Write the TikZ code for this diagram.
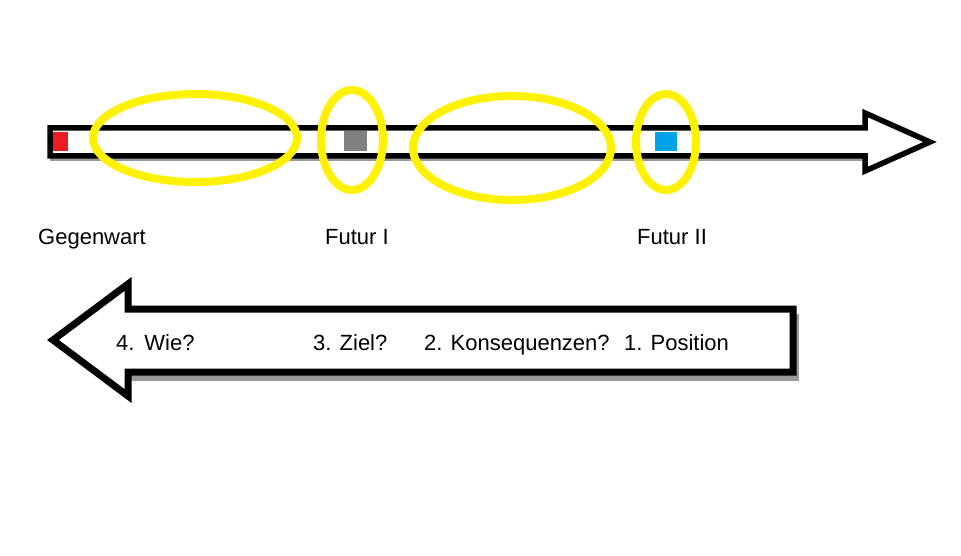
\documentclass[tikz,border=0pt]{standalone}
\usepackage{fontspec}
\setmainfont{Liberation Sans}
\usepackage{tikz}
\usetikzlibrary{positioning,calc}
\definecolor{paintRed}{HTML}{ED1C24}
\definecolor{paintGray}{HTML}{7F7F7F}
\definecolor{paintBlue}{HTML}{00A2E8}
\definecolor{paintYellow}{HTML}{FFF200}
\definecolor{shadow}{HTML}{9A9A9A}
\tikzset{
  timeline/.style={draw=black, fill=white, line width=5.5pt, line join=miter},
  backarrow/.style={draw=black, fill=white, line width=7pt, line join=miter},
  arrowshadow/.style={draw=shadow, line width=7pt, line join=miter},
  marker/.style={draw=none},
  ring/.style={draw=paintYellow, line width=8pt},
  tense/.style={anchor=base west, inner sep=0pt, font=\fontsize{22}{26}\selectfont},
  question/.style={anchor=base west, inner sep=0pt, font=\fontsize{22}{26}\selectfont}
}
\begin{document}
\begin{tikzpicture}[x=1pt, y=-1pt]
\useasboundingbox[fill=white] (0,0) rectangle (961,556);
% time line with the tenses
\draw[arrowshadow, line width=6.5pt, shift={(0,1.5)}] (50,128) -- (865,128) (865,156) -- (50,156);
\draw[timeline] (50,128) -- (865,128) -- (865,113) -- (930,142) -- (865,171) -- (865,156) -- (50,156) -- cycle;
\fill[marker, paintRed] (53,132) rectangle (68,151);
\fill[marker, paintGray] (344,131) rectangle (367,151);
\fill[marker, paintBlue] (655,132) rectangle (677,151);
\draw[ring] (195,138) ellipse [x radius=102, y radius=44];
\draw[ring] (352,140) ellipse [x radius=31, y radius=50];
\draw[ring] (512,148) ellipse [x radius=99, y radius=52];
\draw[ring] (666,142) ellipse [x radius=30, y radius=48];
\node[tense] (gegenwart) at (38,244) {Gegenwart};
\node[tense] (futur1) at (325,244) {Futur I};
\node[tense] (futur2) at (637,244) {Futur II};
% way back
\draw[arrowshadow, shift={(2,5)}] (793,309) -- (128,309) (128,372) -- (793,372) -- (793,309);
\draw[backarrow] (793,309) -- (128,309) -- (128,284) -- (53,340) -- (128,396) -- (128,372) -- (793,372) -- cycle;
\node[question] (wie) at (116,350) {4.\hspace{0.45em}Wie?};
\node[question] (ziel) at (313,350) {3. Ziel?};
\node[question] (folgen) at (424,350) {2. Konsequenzen?};
\node[question] (position) at (624,350) {1. Position};
\end{tikzpicture}
\end{document}
